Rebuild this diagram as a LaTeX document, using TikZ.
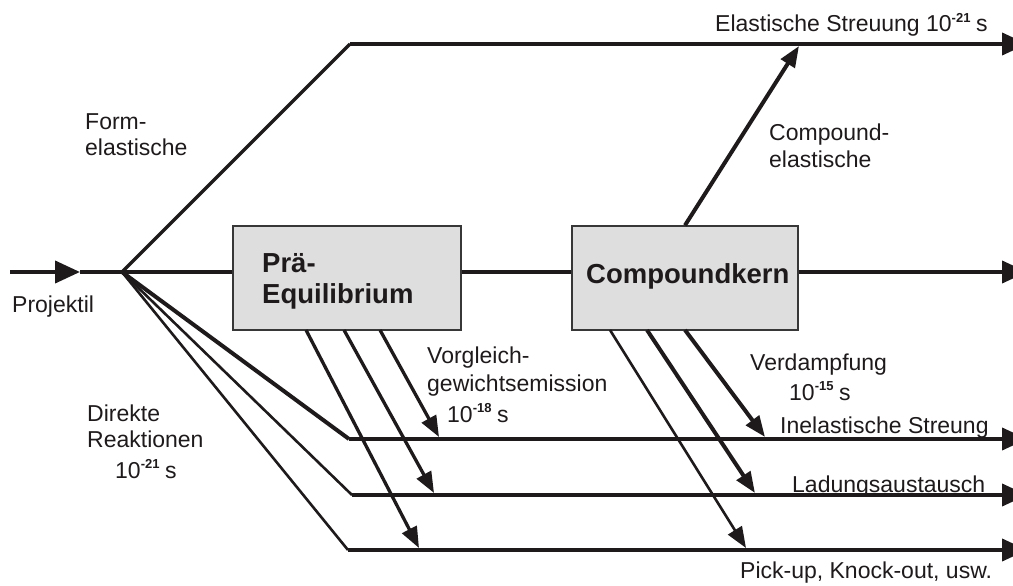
\documentclass[tikz,border=0pt]{standalone}
\usepackage{fontspec}
\setmainfont{Liberation Sans}
\usetikzlibrary{arrows.meta,calc}
\definecolor{ink}{RGB}{30,26,27}
\definecolor{boxfill}{RGB}{222,222,222}
\definecolor{boxline}{RGB}{55,55,55}
\newcommand{\tenexp}[1]{10\textsuperscript{\bfseries\fontsize{13}{13}\selectfont #1}\hspace{5pt}s}
\begin{document}
\begin{tikzpicture}[x=1pt,y=-1pt,
  lbl/.style={anchor=base west, inner sep=0pt, text=ink, font=\fontsize{23}{27}\selectfont},
  boldlbl/.style={anchor=base west, inner sep=0pt, text=ink, font=\fontsize{27.5}{31}\selectfont\bfseries},
  procbox/.style={draw=boxline, fill=boxfill, line width=1.4pt, inner sep=0pt, minimum height=104pt},
  heavy/.style={draw=ink, line width=4pt},
  medium/.style={draw=ink, line width=3.3pt},
  light/.style={draw=ink, line width=2.6pt},
  bigtip/.style={-{Triangle[length=25pt,width=22pt]}},
  smalltip/.style={-{Triangle[length=21pt,width=16pt]}},
]
\useasboundingbox (0,0) rectangle (1013,586);
\clip (0,0) rectangle (1013,586);

% boxes
\node[procbox, minimum width=228pt] (pre) at (347,278) {};
\node[procbox, minimum width=226pt] (comp) at (685,278) {};

% key points
\coordinate (in0) at (10,272);
\coordinate (intip) at (80,272);
\coordinate (J) at (122,272);
\coordinate (up1) at (350,44);
\coordinate (upEnd) at (1027,44);
\coordinate (midEnd) at (1027,272);
\coordinate (d1) at (349,439);
\coordinate (d2) at (352,495);
\coordinate (d3) at (348,550);
\coordinate (e1) at (1027,439);
\coordinate (e2) at (1027,495);
\coordinate (e3) at (1027,550);
\coordinate (ceTip) at (799,46);

% emission starts and tips
\coordinate (a1s) at (306,330);
\coordinate (a2s) at (344,330);
\coordinate (a3s) at (380,330);
\coordinate (a1t) at (419,548);
\coordinate (a2t) at (434,493);
\coordinate (a3t) at (439,437);
\coordinate (b1s) at (610,330);
\coordinate (b2s) at (647,330);
\coordinate (b3s) at (685,330);
\coordinate (b1t) at (746,548);
\coordinate (b2t) at (755,493);
\coordinate (b3t) at (765,437);

% incoming projectile
\draw[heavy, bigtip] (in0) -- (intip);
\draw[heavy] (intip) -- (J);

% upper path
\draw[medium] (J) -- (up1);
\draw[heavy, bigtip] (up1) -- (upEnd);

% main path through the boxes
\draw[heavy] (J) -- (J -| pre.west);
\draw[heavy] (J -| pre.east) -- (J -| comp.west);
\draw[heavy, bigtip] (J -| comp.east) -- (midEnd);

% compound elastic
\draw[heavy, smalltip] (comp.north) -- (ceTip);

% direct reactions
\draw[heavy] (J) -- (d1);
\draw[light] (J) -- (d2);
\draw[light] (J) -- (d3);
\draw[heavy, bigtip] (d1) -- (e1);
\draw[heavy, bigtip] (d2) -- (e2);
\draw[heavy, bigtip] (d3) -- (e3);

% pre-equilibrium emission
\draw[medium, smalltip] (a1s) -- (a1t);
\draw[medium, smalltip] (a2s) -- (a2t);
\draw[medium, smalltip] (a3s) -- (a3t);

% evaporation
\draw[light, smalltip] (b1s) -- (b1t);
\draw[heavy, smalltip] (b2s) -- (b2t);
\draw[heavy, smalltip] (b3s) -- (b3t);

% labels
\node[lbl] (tElast) at (715,32) {Elastische Streuung \tenexp{-21}};
\node[lbl] (tForm1) at (85,129) {Form-};
\node[lbl] (tForm2) at (85,155) {elastische};
\node[lbl] (tProj) at (12,312) {Projektil};
\node[boldlbl] (tPre1) at (262,272) {Prä-};
\node[boldlbl] (tPre2) at (262,303) {Equilibrium};
\node[boldlbl] (tComp) at (586,283) {Compoundkern};
\node[lbl] (tCe1) at (769,140) {Compound-};
\node[lbl] (tCe2) at (769,167) {elastische};
\node[lbl] (tVor1) at (427,363) {Vorgleich-};
\node[lbl] (tVor2) at (427,391) {gewichtsemission};
\node[lbl] (tVor3) at (447,422) {\tenexp{-18}};
\node[lbl] (tVer1) at (750,370) {Verdampfung};
\node[lbl] (tVer2) at (789,400) {\tenexp{-15}};
\node[lbl] (tInel) at (780,433) {Inelastische Streung};
\node[lbl] (tLad) at (792,492) {Ladungsaustausch};
\node[lbl] (tPick) at (740,578) {Pick-up, Knock-out, usw.};
\node[lbl] (tDir1) at (87,421) {Direkte};
\node[lbl] (tDir2) at (87,447) {Reaktionen};
\node[lbl] (tDir3) at (115,478) {\tenexp{-21}};
\end{tikzpicture}
\end{document}
